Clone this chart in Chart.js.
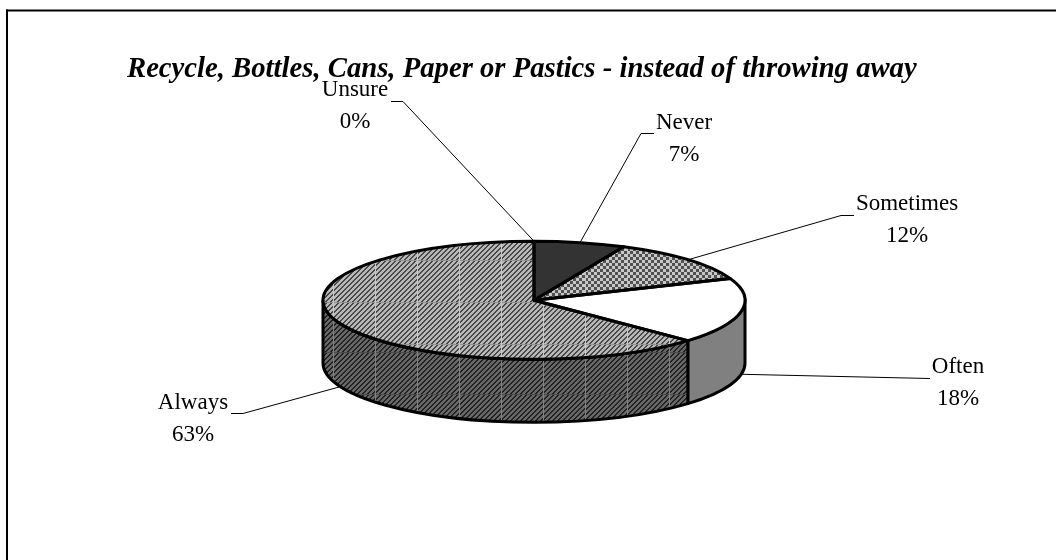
<!DOCTYPE html>
<html>
<head>
<meta charset="utf-8">
<title>Recycling</title>
<script src="https://cdn.jsdelivr.net/npm/chart.js@4/dist/chart.umd.min.js"></script>
<style>
    html, body { margin: 0; padding: 0; background: #fff; }
    canvas { display: block; }
</style>
</head>
<body>
<canvas id="myChart" width="1056" height="560"></canvas>
<script>
const chartTitle = 'Recycle, Bottles, Cans, Paper or Pastics - instead of throwing away';
const sliceLabels = ['Never', 'Sometimes', 'Often', 'Always', 'Unsure'];
const sliceValues = [7, 12, 18, 63, 0];

// where each label sits: text centre, first baseline, and the elbow of its leader
const labelSpots = {
    Never: { x: 684, y: 129, leader: [[654, 133], [641, 133]] },
    Sometimes: { x: 907, y: 210, leader: [[854, 215], [841, 215]] },
    Often: { x: 958, y: 373, leader: [[930, 378]] },
    Always: { x: 193, y: 409, leader: [[231, 413], [243, 413]] },
    Unsure: { x: 355, y: 96, leader: [[391, 101], [403, 101]] }
};

const squash = 59 / 211;   // flattening of the disc
const depth = 63;          // height of the wall
const labelFont = '23px "Liberation Serif"';

// 42px tile: diagonal stripes plus a seam along two edges
function hatchTile(light, dark, seamCol, seamRow) {
    const tile = document.createElement('canvas');
    tile.width = tile.height = 42;
    const c = tile.getContext('2d');
    for (let y = 0; y < 42; y++) {
        for (let x = 0; x < 42; x++) {
            const on = (x + y) % 5 < 2;
            c.fillStyle = x === 0 ? seamCol : y === 0 ? seamRow : on ? dark : light;
            c.fillRect(x, y, 1, 1);
        }
    }
    return c.createPattern(tile, 'repeat');
}

function checkTile(light, dark, seamCol) {
    const tile = document.createElement('canvas');
    tile.width = tile.height = 42;
    const c = tile.getContext('2d');
    for (let y = 0; y < 42; y++) {
        for (let x = 0; x < 42; x++) {
            const on = (Math.floor(x / 3) + Math.floor(y / 3)) % 2 === 0;
            c.fillStyle = x === 0 ? seamCol : on ? dark : light;
            c.fillRect(x, y, 1, 1);
        }
    }
    return c.createPattern(tile, 'repeat');
}

const alwaysTop = hatchTile('#b8b8b8', '#484848', '#c8c8c8', '#909090');
const alwaysWall = hatchTile('#686868', '#222222', '#808080', '#4a4a4a');
const sometimesTop = checkTile('#c8c8c8', '#505050', '#c0c0c0');

const topFills = ['#333333', sometimesTop, '#ffffff', alwaysTop, '#ffffff'];
const wallFills = ['#1a1a1a', '#555555', '#808080', alwaysWall, '#999999'];

const pie3d = {
    id: 'pie3d',
    beforeDraw(chart) {
        // open frame on the left and top only
        const ctx = chart.ctx;
        ctx.save();
        ctx.fillStyle = '#000';
        ctx.fillRect(6, 9.5, 1050, 2);
        ctx.fillRect(6, 9.5, 2, 551);
        ctx.restore();
    },
    beforeDatasetsDraw(chart) {
        const ctx = chart.ctx;
        const arcs = chart.getDatasetMeta(0).data;
        const cx = arcs[0].x, cy = arcs[0].y, r = arcs[0].outerRadius;

        // walls, only the part of each slice facing the viewer
        alwaysWall.setTransform(new DOMMatrix().translate(39, 16));
        ctx.save();
        ctx.lineWidth = 3;
        ctx.lineJoin = 'round';
        ctx.strokeStyle = '#000';
        arcs.forEach((arc, i) => {
            const a0 = Math.max(arc.startAngle, 0);
            const a1 = Math.min(arc.endAngle, Math.PI);
            if (a1 <= a0) return;
            ctx.beginPath();
            ctx.ellipse(cx, cy, r, r * squash, 0, a0, a1);
            ctx.ellipse(cx, cy + depth, r, r * squash, 0, a1, a0, true);
            ctx.closePath();
            ctx.fillStyle = wallFills[i];
            ctx.fill();
            ctx.stroke();
        });
        ctx.restore();

        // the library then draws its arcs flattened into an ellipse
        ctx.save();
        ctx.translate(cx, cy);
        ctx.scale(1, squash);
        ctx.translate(-cx, -cy);
        const inv = ctx.getTransform().inverse();
        alwaysTop.setTransform(inv.translate(39, 8));
        sometimesTop.setTransform(inv.translate(39, 8));
    },
    afterDatasetsDraw(chart) {
        const ctx = chart.ctx;
        ctx.restore();

        const arcs = chart.getDatasetMeta(0).data;
        const cx = arcs[0].x, cy = arcs[0].y, r = arcs[0].outerRadius;

        // slice outlines keep an even weight, so stroke them unflattened
        ctx.save();
        ctx.lineWidth = 3;
        ctx.lineJoin = 'round';
        ctx.strokeStyle = '#000';
        arcs.forEach(arc => {
            if (arc.endAngle - arc.startAngle <= 0) return;
            ctx.beginPath();
            ctx.moveTo(cx, cy);
            ctx.ellipse(cx, cy, r, r * squash, 0, arc.startAngle, arc.endAngle);
            ctx.closePath();
            ctx.stroke();
        });
        ctx.restore();

        // leaders run from the middle of each slice's outer edge
        ctx.save();
        ctx.lineWidth = 1;
        ctx.strokeStyle = '#000';
        ctx.fillStyle = '#000';
        ctx.font = labelFont;
        ctx.textAlign = 'center';
        ctx.textBaseline = 'alphabetic';
        arcs.forEach((arc, i) => {
            const name = sliceLabels[i];
            const spot = labelSpots[name];
            const mid = (arc.startAngle + arc.endAngle) / 2;
            const ex = cx + r * Math.cos(mid);
            const wall = Math.sin(mid) > 0 ? depth : 0;
            const ey = cy + r * squash * Math.sin(mid) + wall;
            ctx.beginPath();
            spot.leader.forEach((p, n) => n ? ctx.lineTo(p[0], p[1] + 0.5) : ctx.moveTo(p[0], p[1] + 0.5));
            ctx.lineTo(ex, ey);
            ctx.stroke();
            ctx.fillText(name, spot.x, spot.y);
            ctx.fillText(sliceValues[i] + '%', spot.x, spot.y + 32);
        });
        ctx.restore();
    }
};

new Chart('myChart', {
    type: 'pie',
    data: {
        labels: sliceLabels,
        datasets: [{
            data: sliceValues,
            backgroundColor: topFills,
            borderWidth: 0
        }]
    },
    options: {
        responsive: false,
        animation: false,
        radius: 211,
        events: [],
        layout: { padding: { left: 127, right: 115, top: 0, bottom: 46 } },
        plugins: {
            legend: { display: false },
            tooltip: { enabled: false },
            title: {
                display: true,
                text: chartTitle,
                align: 'start',
                color: '#000',
                font: { family: '"Liberation Serif"', size: 28.7, style: 'italic', weight: 'bold', lineHeight: 1.2 },
                padding: { top: 52, bottom: 0 }
            }
        }
    },
    plugins: [pie3d]
});
</script>
</body>
</html>
